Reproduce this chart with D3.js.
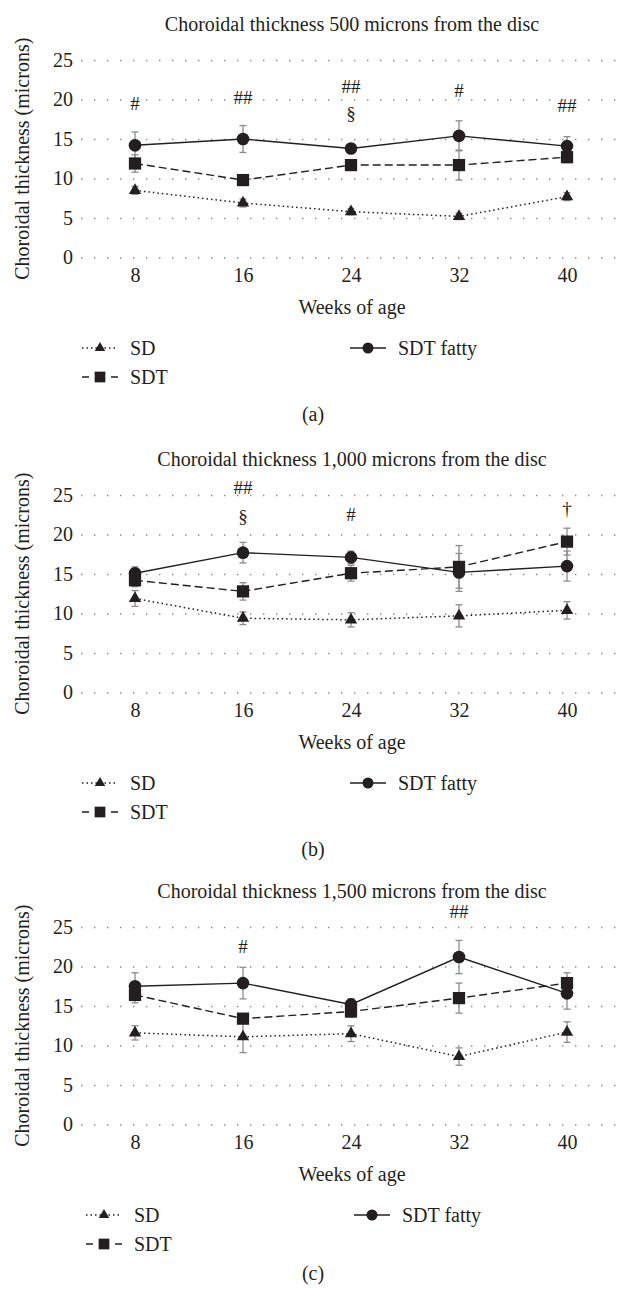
<!DOCTYPE html>
<html>
<head>
<meta charset="utf-8">
<script src="https://cdn.jsdelivr.net/npm/d3@7"></script>
<style>
  body { margin: 0; background: #fff; }
</style>
</head>
<body>
<div id="chart"></div>
<script>
// x values and tick labels
const weeks = [8, 16, 24, 32, 40];
const yTicks = [0, 5, 10, 15, 20, 25];
const titles = [
    "Choroidal thickness 500 microns from the disc",
    "Choroidal thickness 1,000 microns from the disc",
    "Choroidal thickness 1,500 microns from the disc"
];
const panelLabels = ["(a)", "(b)", "(c)"];
const seriesNames = ["SD", "SDT", "SDT fatty"];

// panel (a) means and error
const sdA = [8.5, 6.9, 5.8, 5.2, 7.7];
const sdErrA = [0.5, 0.5, 0.4, 0.4, 0.5];
const sdtA = [11.9, 9.8, 11.7, 11.7, 12.7];
const sdtErrA = [1.1, 0.4, 0.4, 1.9, 0.7];
const fattyA = [14.2, 15.0, 13.8, 15.4, 14.1];
const fattyErrA = [1.7, 1.7, 0.5, 1.9, 1.2];

// panel (b)
const sdB = [11.9, 9.4, 9.2, 9.7, 10.4];
const sdErrB = [1.0, 0.8, 0.9, 1.4, 1.1];
const sdtB = [14.2, 12.8, 15.1, 15.9, 19.1];
const sdtErrB = [0.8, 1.1, 1.0, 2.7, 1.7];
const fattyB = [15.1, 17.7, 17.1, 15.2, 16.0];
const fattyErrB = [0.8, 1.3, 0.8, 2.4, 1.9];

// panel (c)
const sdC = [11.6, 11.1, 11.5, 8.6, 11.7];
const sdErrC = [0.9, 2.0, 1.0, 1.1, 1.3];
const sdtC = [16.4, 13.4, 14.3, 16.0, 17.9];
const sdtErrC = [1.0, 0.6, 0.7, 1.9, 1.3];
const fattyC = [17.5, 17.9, 15.2, 21.2, 16.6];
const fattyErrC = [1.7, 2.0, 0.7, 2.1, 2.0];

// significance marks: week, symbol, level (in microns)
const marksA = [[8, "#", 19.5], [16, "##", 20.3], [24, "##", 21.7], [24, "§", 18.2], [32, "#", 21.2], [40, "##", 19.3]];
const marksB = [[16, "##", 26.0], [16, "§", 22.3], [24, "#", 22.6], [40, "†", 23.3]];
const marksC = [[16, "#", 22.6], [32, "##", 27.0]];

const panels = [
    {sd: sdA, sdErr: sdErrA, sdt: sdtA, sdtErr: sdtErrA, fatty: fattyA, fattyErr: fattyErrA, marks: marksA, top: 0, legendDx: 0, labelY: 421},
    {sd: sdB, sdErr: sdErrB, sdt: sdtB, sdtErr: sdtErrB, fatty: fattyB, fattyErr: fattyErrB, marks: marksB, top: 435, legendDx: 0, labelY: 421},
    {sd: sdC, sdErr: sdErrC, sdt: sdtC, sdtErr: sdtErrC, fatty: fattyC, fattyErr: fattyErrC, marks: marksC, top: 867, legendDx: 4, labelY: 413}
];

const width = 625, height = 1290;
const ink = "#231f20";
const errColor = "#8c8c8c";
const serif = "'Liberation Serif', 'Times New Roman', serif";

const svg = d3.select("#chart").append("svg")
    .attr("width", width)
    .attr("height", height);

const x = d3.scaleLinear().domain([4, 44]).range([81, 621]);
const y = d3.scaleLinear().domain([0, 25]).range([257.5, 60]);

// marker shapes
const shapes = {
    "SD": d3.symbol(d3.symbolTriangle, 66),
    "SDT": d3.symbol(d3.symbolSquare, 150),
    "SDT fatty": d3.symbol(d3.symbolCircle, 125)
};
const legendShapes = {
    "SD": d3.symbol(d3.symbolTriangle, 48),
    "SDT": d3.symbol(d3.symbolSquare, 115),
    "SDT fatty": d3.symbol(d3.symbolCircle, 95)
};
const dashes = {"SD": "1.5,3", "SDT": "8,4", "SDT fatty": null};

function label(sel, size) {
    return sel.style("font-family", serif)
        .style("font-size", size + "px")
        .attr("fill", ink);
}

panels.forEach((p, i) => {
    const g = svg.append("g").attr("transform", `translate(0,${p.top})`);

    // title
    g.append("text")
        .attr("x", 352)
        .attr("y", 31)
        .attr("text-anchor", "middle")
        .call(label, 20)
        .text(titles[i]);

    // y grid + tick labels
    const yAxis = g.append("g")
        .attr("transform", `translate(${x(4)},0)`)
        .call(d3.axisLeft(y).tickValues(yTicks).tickSize(-(x(44) - x(4))).tickPadding(8));
    yAxis.select(".domain").remove();
    yAxis.selectAll(".tick line")
        .attr("stroke", "#8a8a8a")
        .attr("stroke-width", 1.4)
        .attr("stroke-dasharray", "1.4,11.6");
    yAxis.selectAll(".tick text").call(label, 20);

    // x tick labels
    const xAxis = g.append("g")
        .attr("transform", `translate(0,${y(0)})`)
        .call(d3.axisBottom(x).tickValues(weeks).tickSize(0).tickPadding(10));
    xAxis.select(".domain").remove();
    xAxis.selectAll(".tick text").call(label, 20);

    // axis titles
    g.append("text")
        .attr("x", 352)
        .attr("y", 314)
        .attr("text-anchor", "middle")
        .call(label, 20)
        .text("Weeks of age");

    g.append("text")
        .attr("transform", "rotate(-90)")
        .attr("x", -(y(0) + y(25)) / 2)
        .attr("y", 29)
        .attr("text-anchor", "middle")
        .call(label, 20)
        .text("Choroidal thickness (microns)");

    const series = [
        {name: "SD", values: p.sd, err: p.sdErr},
        {name: "SDT", values: p.sdt, err: p.sdtErr},
        {name: "SDT fatty", values: p.fatty, err: p.fattyErr}
    ];

    const line = d3.line()
        .x((d, j) => x(weeks[j]))
        .y(d => y(d));

    // lines
    series.forEach(s => {
        g.append("path")
            .datum(s.values)
            .attr("d", line)
            .attr("fill", "none")
            .attr("stroke", ink)
            .attr("stroke-width", s.name === "SD" ? 1.5 : 1.4)
            .attr("stroke-dasharray", dashes[s.name]);
    });

    // error bars
    series.forEach(s => {
        const eb = g.append("g")
            .attr("stroke", errColor)
            .attr("stroke-width", 1.3);
        s.values.forEach((v, j) => {
            const cx = x(weeks[j]);
            const lo = y(v - s.err[j]), hi = y(v + s.err[j]);
            eb.append("line").attr("x1", cx).attr("x2", cx).attr("y1", lo).attr("y2", hi);
            eb.append("line").attr("x1", cx - 3.5).attr("x2", cx + 3.5).attr("y1", lo).attr("y2", lo);
            eb.append("line").attr("x1", cx - 3.5).attr("x2", cx + 3.5).attr("y1", hi).attr("y2", hi);
        });
    });

    // markers
    series.forEach(s => {
        g.selectAll(null)
            .data(s.values)
            .join("path")
            .attr("d", shapes[s.name])
            .attr("transform", (d, j) => `translate(${x(weeks[j])},${y(d)})`)
            .attr("fill", ink);
    });

    // significance marks
    g.selectAll(null)
        .data(p.marks)
        .join("text")
        .attr("x", d => x(d[0]))
        .attr("y", d => y(d[2]))
        .attr("dy", "0.35em")
        .attr("text-anchor", "middle")
        .call(label, 19)
        .text(d => d[1]);

    // legend
    const legendPos = [[82, 348], [82, 377], [350, 348]];
    seriesNames.forEach((name, k) => {
        const lx = legendPos[k][0] + p.legendDx, ly = legendPos[k][1];
        const lg = g.append("g");
        lg.append("line")
            .attr("x1", lx).attr("x2", lx + 36)
            .attr("y1", ly).attr("y2", ly)
            .attr("stroke", ink)
            .attr("stroke-width", 1.4)
            .attr("stroke-dasharray", name === "SD" ? "1.5,3" : name === "SDT" ? "7,22,7" : null);
        lg.append("path")
            .attr("d", legendShapes[name])
            .attr("transform", `translate(${lx + 18},${ly})`)
            .attr("fill", ink);
        lg.append("text")
            .attr("x", lx + 48)
            .attr("y", ly + 7)
            .call(label, 20)
            .text(name);
    });

    // panel label
    g.append("text")
        .attr("x", 313)
        .attr("y", p.labelY)
        .attr("text-anchor", "middle")
        .call(label, 20)
        .text(panelLabels[i]);
});
</script>
</body>
</html>
